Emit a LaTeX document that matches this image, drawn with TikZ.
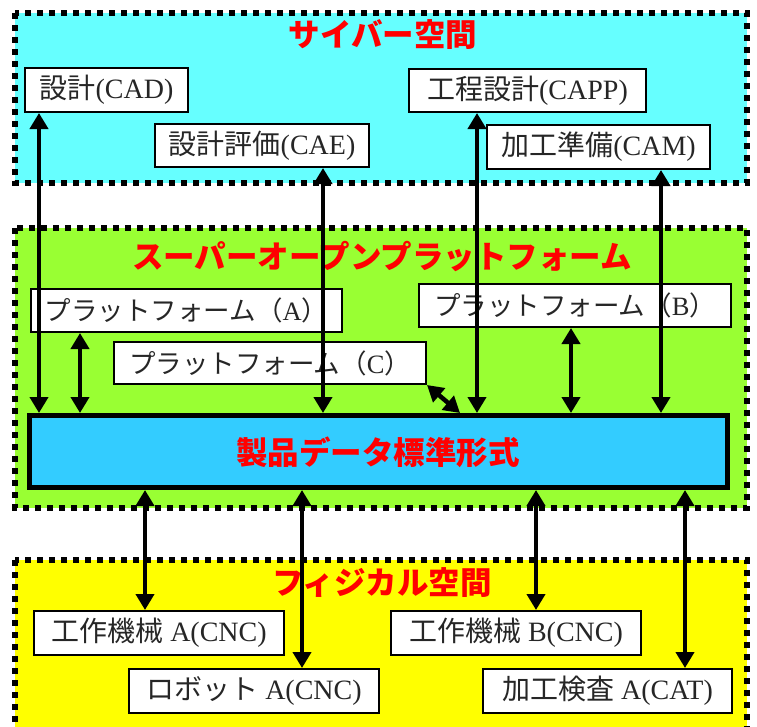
\documentclass[tikz,border=0pt]{standalone}
\usepackage{fontspec}
\setmainfont{Liberation Serif}
\newfontfamily\cjk{Noto Sans CJK JP}
\usetikzlibrary{arrows.meta}
\definecolor{cybercol}{HTML}{66FFFF}
\definecolor{sopcol}{HTML}{99FF33}
\definecolor{physcol}{HTML}{FFFF00}
\definecolor{pdcol}{HTML}{33CCFF}
\definecolor{ttlcol}{HTML}{FF0000}
\begin{document}
\begin{tikzpicture}[x=1pt,y=-1pt,
  region/.style={draw=black, line width=5.5pt, dash pattern=on 6pt off 6pt},
  box/.style={draw=black, fill=white, line width=2pt, inner sep=0pt, text=black!85,
    font=\fontsize{28}{28}\selectfont},
  platbox/.style={box, font=\fontsize{26.5}{26.5}\selectfont},
  ttl/.style={text=ttlcol, font=\cjk\bfseries\fontsize{31.5}{31.5}\selectfont},
  dbl/.style={line width=4.5pt, {Triangle[width=18pt,length=16pt]}-{Triangle[width=18pt,length=16pt]}},
]
\useasboundingbox (0,0) rectangle (757,726);
\clip (0,0) rectangle (757,726);

% regions
\draw[region, fill=cybercol] (15,13) rectangle (747,183);
\draw[region, fill=sopcol] (15,228) rectangle (747,508);
\draw[region, fill=physcol] (15,560) rectangle (747,760);

% titles
\node[ttl] (tcyber) at (383,35) {サイバー空間};
\node[ttl] (tsop) at (382,256) {スーパーオープンプラットフォーム};
\node[ttl] (tphys) at (382,583) {フィジカル空間};

% cyber boxes
\node[box, minimum width=163pt, minimum height=44pt] (cad) at (106.5,90) {{\cjk 設計}(CAD)};
\node[box, minimum width=214pt, minimum height=43pt] (cae) at (262,145.5) {{\cjk 設計評価}(CAE)};
\node[box, minimum width=237pt, minimum height=43pt] (capp) at (527.5,90.5) {{\cjk 工程設計}(CAPP)};
\node[box, minimum width=223pt, minimum height=44pt] (cam) at (598.5,147) {{\cjk 加工準備}(CAM)};

% platforms
\node[platbox, minimum width=311pt, minimum height=43pt] (plata) at (186.5,310.5) {{\cjk プラットフォーム（}A{\cjk ）}};
\node[platbox, minimum width=312pt, minimum height=42pt] (platc) at (270,363) {{\cjk プラットフォーム（}C{\cjk ）}};
\node[platbox, minimum width=312pt, minimum height=43pt] (platb) at (575,305.5) {{\cjk プラットフォーム（}B{\cjk ）}};

% product data
\node[draw=black, line width=5pt, fill=pdcol, minimum width=698pt, minimum height=72pt, inner sep=0pt] (pd) at (378.5,451.5) {};
\node[ttl] (pdtext) at (378,452) {製品データ標準形式};

% physical boxes
\node[box, minimum width=250pt, minimum height=44pt] (ma) at (159,633) {{\cjk 工作機械} A(CNC)};
\node[box, minimum width=250pt, minimum height=44pt] (robot) at (254,691) {{\cjk ロボット} A(CNC)};
\node[box, minimum width=250pt, minimum height=44pt] (mb) at (516,633) {{\cjk 工作機械} B(CNC)};
\node[box, minimum width=249pt, minimum height=44pt] (cat) at (607.5,691) {{\cjk 加工検査} A(CAT)};

% x positions
\coordinate (xcad) at (39,0);
\coordinate (xcae) at (323,0);
\coordinate (xcapp) at (477,0);
\coordinate (xcam) at (661,0);
\coordinate (xpa) at (80,0);
\coordinate (xpb) at (571,0);
\coordinate (xpc) at (460,0);
\coordinate (xma) at (145,0);
\coordinate (xrb) at (302,0);
\coordinate (xmb) at (536,0);
\coordinate (xcat) at (685,0);

% connectors
\draw[dbl] (cad.south -| xcad) -- (pd.north -| xcad);
\draw[dbl] (cae.south -| xcae) -- (pd.north -| xcae);
\draw[dbl] (capp.south -| xcapp) -- (pd.north -| xcapp);
\draw[dbl] (cam.south -| xcam) -- (pd.north -| xcam);
\draw[dbl] (plata.south -| xpa) -- (pd.north -| xpa);
\draw[dbl] (platb.south -| xpb) -- (pd.north -| xpb);
\draw[dbl] (platc.south east) -- (pd.north -| xpc);
\draw[dbl] (pd.south -| xma) -- (ma.north -| xma);
\draw[dbl] (pd.south -| xrb) -- (robot.north -| xrb);
\draw[dbl] (pd.south -| xmb) -- (mb.north -| xmb);
\draw[dbl] (pd.south -| xcat) -- (cat.north -| xcat);
\end{tikzpicture}
\end{document}
